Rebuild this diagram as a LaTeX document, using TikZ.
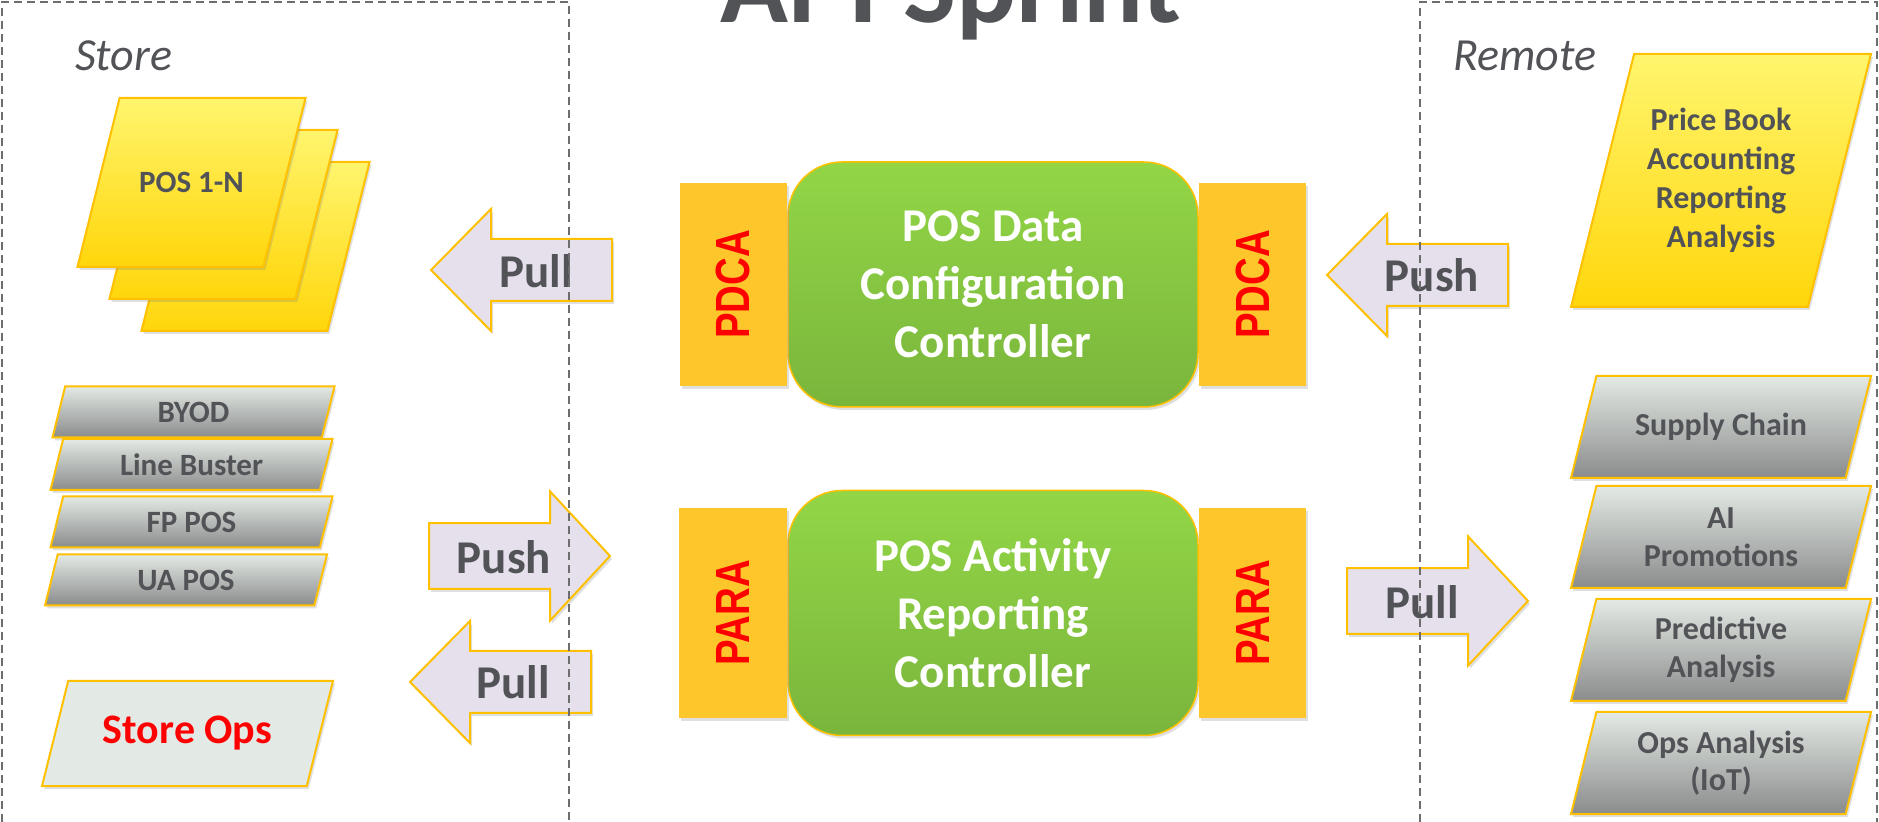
\documentclass[tikz,border=0pt]{standalone}
\usepackage{fontspec}
\setmainfont{Carlito}
\newfontfamily\arialfont{Liberation Sans}
\usepackage{graphicx}
\usetikzlibrary{shapes.geometric, shadows, positioning}

\definecolor{gold}{HTML}{FFC000}
\definecolor{ink}{HTML}{515357}
\definecolor{lav}{HTML}{E6E0EC}
\definecolor{amber}{HTML}{FDC62A}
\definecolor{yelltop}{HTML}{FFF56E}
\definecolor{yellbot}{HTML}{FFD60A}
\definecolor{greytop}{HTML}{E3E9E5}
\definecolor{greybot}{HTML}{8A8C8B}
\definecolor{greentop}{HTML}{92D646}
\definecolor{greenbot}{HTML}{7AB53C}
\definecolor{framegrey}{HTML}{6D6D6D}
\definecolor{opsfill}{HTML}{E3E9E5}

\newcommand{\sidelabel}[1]{\rotatebox{90}{\scalebox{0.8}[1]{#1}}}

\begin{document}
\begin{tikzpicture}[x=0.5pt, y=-0.5pt]
	\tikzset{
		soft/.style={drop shadow={opacity=0.25, shadow xshift=1pt, shadow yshift=-1.5pt}},
		slab/.style={trapezium, trapezium left angle=76, trapezium right angle=104,
			draw=gold, line width=1pt, inner sep=0pt, text=ink, soft},
		slabsize/.style 2 args={
			execute at begin node={\begin{minipage}[c][#2][c]{#1}\centering\leavevmode},
			execute at end node={\end{minipage}}},
		sheet/.style={slab, top color=yelltop, bottom color=yellbot,
			slabsize={71.9pt}{84.5pt}},
		device/.style={slab, top color=greytop, bottom color=greybot,
			slabsize={128.3pt}{25.5pt},
			font=\fontsize{15.5}{18}\selectfont\bfseries},
		service/.style={slab, top color=greytop, bottom color=greybot,
			slabsize={124.6pt}{51pt},
			font=\fontsize{16}{18.75}\selectfont\bfseries},
		ctrl/.style={rectangle, rounded corners=27pt, draw=gold, line width=0.75pt,
			top color=greentop, bottom color=greenbot, text=white, align=center,
			minimum width=205pt, minimum height=122.5pt, soft,
			font=\fontsize{23.5}{29}\selectfont\bfseries},
		sidetab/.style={rectangle, fill=amber, inner sep=0pt, text=red, soft,
			font=\arialfont\fontsize{24}{24}\selectfont\bfseries},
		arrowbox/.style={fill=lav, draw=gold, line width=1pt, soft},
		arrowtext/.style={text=ink, font=\fontsize{23.5}{28}\selectfont\bfseries},
		zonelabel/.style={font=\fontsize{23}{28}\selectfont\itshape, text=ink,
			anchor=base west},
		zoneframe/.style={draw=framegrey, line width=0.75pt,
			dash pattern=on 4pt off 2.5pt},
		pics/barrow/.style={code={
			\draw[arrowbox, #1] (0,0) -- (60,-61) -- (60,-31) -- (181,-31)
				-- (181,31) -- (60,31) -- (60,61) -- cycle;
		}},
		pics/barrow/.default={},
	}
	\useasboundingbox (0,0) rectangle (1879,822);
	\clip (0,0) rectangle (1879,822);
	\fill[white] (0,0) rectangle (1879,822);

	% title, cut by the top edge
	\node[anchor=base, text=ink, font=\fontsize{56}{60}\selectfont\bfseries]
		(title) at (951,23) {API Sprint};

	% store side
	\node[zonelabel] (store) at (68,71) {Store};
	\node[sheet] (pos3) at (255.5,246.5) {};
	\node[sheet] (pos2) at (223.5,214.5) {};
	\node[sheet, font=\fontsize{15.5}{18}\selectfont\bfseries] (pos1)
		at (191.5,182.5) {POS 1-N};

	\node[device] (byod) at (193.5,412) {BYOD};
	\node[device] (line) at (191.5,464.5) {Line Buster};
	\node[device] (fp) at (191.5,522) {FP POS};
	\node[device] (ua) at (186,580) {UA POS};

	\node[slab, fill=opsfill, slabsize={119.3pt}{52.5pt},
		text=red, font=\fontsize{21}{24}\selectfont\bfseries] (ops)
		at (187.5,733.5) {Store Ops};

	% block arrows
	\pic at (431,270) {barrow};
	\node[arrowtext] (pullcfg) at (536,271) {Pull};
	\pic at (610,556) {barrow={xscale=-1, yscale=1.06}};
	\node[arrowtext] (pushact) at (504,557) {Push};
	\pic at (410,682) {barrow};
	\node[arrowtext] (pullact) at (513,682) {Pull};
	\pic at (1327,275) {barrow};
	\node[arrowtext] (pushcfg) at (1432,275) {Push};
	\pic at (1528,601) {barrow={xscale=-1, yscale=1.06}};
	\node[arrowtext] (pullrep) at (1422,602) {Pull};

	% controllers
	\node[ctrl] (dcc) at (993,284.5) {POS Data\\Configuration\\Controller};
	\node[sidetab, minimum width=53.5pt, minimum height=101.5pt, left=0pt of dcc]
		(pdcain) {\sidelabel{PDCA}};
	\node[sidetab, minimum width=53.5pt, minimum height=101.5pt, right=0pt of dcc]
		(pdcaout) {\sidelabel{PDCA}};
	\node[ctrl] (arc) at (993,613) {POS Activity\\Reporting\\Controller};
	\node[sidetab, minimum width=54pt, minimum height=105pt, left=0pt of arc]
		(parain) {\sidelabel{PARA}};
	\node[sidetab, minimum width=53.5pt, minimum height=105pt, right=0pt of arc]
		(paraout) {\sidelabel{PARA}};

	% remote side
	\node[zonelabel] (remote) at (1446,71) {Remote};
	\node[slab, top color=yelltop, bottom color=yellbot, slabsize={86.9pt}{126.5pt},
		font=\fontsize{16}{19.5}\selectfont\bfseries]
		(books) at (1721,180.5) {Price Book\\Accounting\\Reporting\\Analysis};
	\node[service] (supply) at (1721,427) {Supply Chain};
	\node[service] (promo) at (1721,537) {AI\\Promotions};
	\node[service] (predict) at (1721,650) {Predictive\\Analysis};
	\node[service] (opsan) at (1721,763) {Ops Analysis\\(IoT)};

	% dashed zones, drawn last
	\draw[zoneframe] (2,822) -- (2,2) -- (569,2) -- (569,822);
	\draw[zoneframe] (1420,822) -- (1420,2) -- (1877,2) -- (1877,822);
\end{tikzpicture}
\end{document}
